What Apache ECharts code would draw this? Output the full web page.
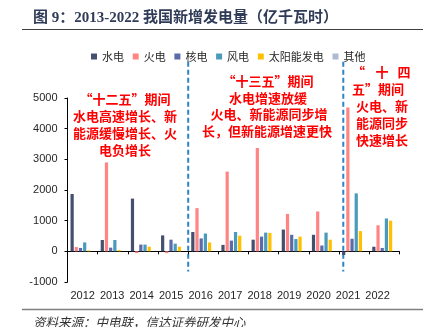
<!DOCTYPE html>
<html>
<head>
<meta charset="utf-8">
<script src="https://cdn.jsdelivr.net/npm/echarts@6/dist/echarts.min.js"></script>
<style>
  html, body { margin: 0; padding: 0; background: #fff; }
  #chart { width: 443px; height: 327px; }
</style>
</head>
<body>
<div id="chart"></div>
<script>
// Newly added generation by source, 2012-2022 (100 million kWh)
const years   = ['2012', '2013', '2014', '2015', '2016', '2017', '2018', '2019', '2020', '2021', '2022'];
const hydro   = [1870,  370, 1720,  520,  630,  210,  380,  710,  540, -120,  150];
const thermal = [ 140, 2900,  -60,  -60, 1410, 2600, 3370, 1220, 1300, 4690,  850];
const nuclear = [ 110,  120,  220,  380,  420,  350,  480,  540,  190,  410,  110];
const wind    = [ 290,  370,  220,  250,  580,  630,  610,  400,  610, 1890, 1070];
const solar   = [  30,   40,  150,  150,  290,  510,  600,  480,  380,  660, 1000];
const other   = [   0,    0,    0,    0,    0,    0,    0,    0,    0,    0,    0];

const seriesNames  = ['水电', '火电', '核电', '风电', '太阳能发电', '其他'];
const seriesValues = [hydro, thermal, nuclear, wind, solar, other];
const seriesColors = ['#44506e', '#ff8585', '#5b6aa8', '#4a9abb', '#ffc000', '#afbad2'];

const yMin = -1000, yMax = 5000, yStep = 1000;

const cjk = "'Noto Sans CJK SC', sans-serif";
const latin = "'Liberation Sans', Arial, sans-serif";

const chart = echarts.init(document.getElementById('chart'), null, { renderer: 'canvas' });

chart.setOption({
  backgroundColor: '#ffffff',
  animation: false,
  legend: {
    left: 86, top: 46,
    icon: 'rect', itemWidth: 6, itemHeight: 6, itemGap: 8.7,
    textStyle: { fontFamily: cjk, fontSize: 11, color: '#262626' },
    data: seriesNames
  },
  grid: [
    { left: 67.5, right: 43.6, top: 98, height: 184 },
    // a second frame just for the year labels row
    { left: 68, right: 50.7, top: 98, height: 184 }
  ],
  xAxis: [
    {
      type: 'category', gridIndex: 0, data: years,
      axisLine: { onZero: true, lineStyle: { color: '#000', width: 1 } },
      axisTick: { show: true, interval: 0, length: 3, lineStyle: { color: '#000' } },
      axisLabel: { show: false }
    },
    {
      type: 'category', gridIndex: 1, data: years, position: 'bottom',
      axisLine: { show: false }, axisTick: { show: false },
      axisLabel: { interval: 0, margin: 8, fontFamily: latin, fontSize: 11, color: '#262626' }
    }
  ],
  yAxis: [
    {
      type: 'value', gridIndex: 0, min: yMin, max: yMax, interval: yStep,
      axisLine: { show: true, lineStyle: { color: '#000', width: 1 } },
      axisTick: { show: true, length: 3, lineStyle: { color: '#000' } },
      axisLabel: { margin: 10, fontFamily: latin, fontSize: 11, color: '#262626',
                   formatter: (v) => String(v) },
      splitLine: { show: false }
    },
    { type: 'value', gridIndex: 1, min: yMin, max: yMax, show: false, splitLine: { show: false } }
  ],
  series: seriesNames.map((name, i) => ({
    name, type: 'bar', xAxisIndex: 0, yAxisIndex: 0,
    data: seriesValues[i],
    barGap: '30%', barCategoryGap: '20%',
    itemStyle: { color: seriesColors[i] }
  }))
});

// Period dividers and notes, positioned through the axes
const cx = (year) => chart.convertToPixel({ xAxisIndex: 0 }, year);
const cy = (v) => chart.convertToPixel({ yAxisIndex: 0 }, v);
const div1 = (cx('2015') + cx('2016')) / 2;
const div2 = cx('2020') + (cx('2021') - cx('2020')) * 0.64;
const lineTop = cy(6180), lineBot = cy(-660);

const dashed = (x) => ({
  type: 'line', silent: true,
  shape: { x1: x, y1: lineTop, x2: x, y2: lineBot },
  style: { stroke: '#2a86c8', lineWidth: 2, lineDash: [5, 3] }
});

const red = { fill: '#ff0000', fontFamily: cjk, fontSize: 13, fontWeight: 'bold' };
const note = (text, x, y, align) => ({
  type: 'text', silent: true, x, y,
  style: Object.assign({ text, align: align || 'center', verticalAlign: 'middle' }, red)
});

chart.setOption({
  graphic: [
    // heading
    { type: 'text', x: 33, y: 18, style: {
        text: '图 9：2013-2022 我国新增发电量（亿千瓦时）',
        fill: '#2f3b57', fontFamily: "'Liberation Serif', 'Noto Sans CJK SC', serif",
        fontSize: 15, fontWeight: 'bold', verticalAlign: 'middle' } },
    { type: 'line', shape: { x1: 22, y1: 29.5, x2: 423, y2: 29.5 },
      style: { stroke: '#404040', lineWidth: 1 } },
    // footer
    { type: 'line', shape: { x1: 22, y1: 309.5, x2: 423, y2: 309.5 },
      style: { stroke: '#7f7f7f', lineWidth: 1.5 } },
    { type: 'text', x: 33, y: 322, style: {
        text: '资料来源：中电联，信达证券研发中心',
        fill: '#333', fontFamily: cjk, fontSize: 12.5, fontStyle: 'italic',
        verticalAlign: 'middle' } },
    dashed(div1),
    dashed(div2),
    // 12th Five-Year Plan
    note('“十二五”期间', 125, 99.5),
    note('水电高速增长、新', 125, 116.5),
    note('能源缓慢增长、火', 125, 133.5),
    note('电负增长', 125, 150.5),
    // 13th Five-Year Plan
    note('“十三五”期间', 268, 81),
    note('水电增速放缓', 268, 98),
    note('火电、新能源同步增', 269, 114.5),
    note('长，但新能源增速更快', 267, 131.5),
    // 14th Five-Year Plan
    note('“', 365, 72, 'right'),
    note('十', 382, 72),
    note('四', 404, 72),
    note('五”期间', 352, 89, 'left'),
    note('火电、新', 356, 106, 'left'),
    note('能源同步', 356, 123, 'left'),
    note('快速增长', 356, 140, 'left')
  ]
});
</script>
</body>
</html>
